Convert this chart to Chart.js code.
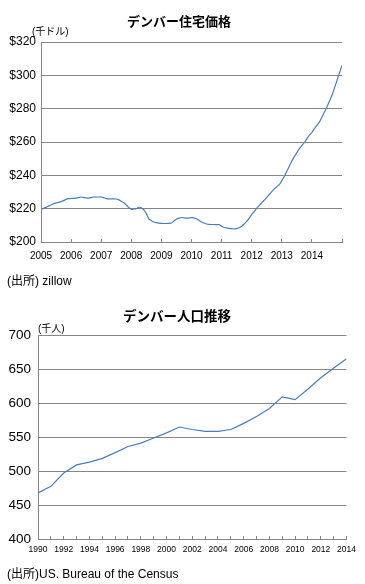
<!DOCTYPE html>
<html>
<head>
<meta charset="utf-8">
<script src="https://cdn.jsdelivr.net/npm/chart.js@4.4.1/dist/chart.umd.min.js"></script>
<style>
  body { margin: 0; background: #fff; width: 365px; height: 584px; position: relative; overflow: hidden;
         font-family: Arial, "Liberation Sans", "Noto Sans CJK JP", sans-serif; color: #000; }
  .box { position: absolute; left: 0; width: 365px; }
  .txt { position: absolute; white-space: nowrap; line-height: 1; }
  .title { font-weight: bold; font-family: "Noto Sans CJK JP", sans-serif; }
</style>
</head>
<body>
<div class="box" style="top:0;height:290px;"><canvas id="price-chart" width="365" height="290"></canvas></div>
<div class="box" style="top:290px;height:294px;"><canvas id="pop-chart" width="365" height="294"></canvas></div>

<div class="txt title" style="left:127px;top:14px;font-size:13px;">デンバー住宅価格</div>
<div class="txt" style="left:32px;top:27px;font-size:10px;">(千ドル)</div>
<div class="txt" style="left:7px;top:275px;font-size:12px;">(出所) zillow</div>

<div class="txt title" style="left:123px;top:309px;font-size:13.5px;">デンバー人口推移</div>
<div class="txt" style="left:38px;top:324px;font-size:10px;">(千人)</div>
<div class="txt" style="left:7px;top:568px;font-size:12px;">(出所)US. Bureau of the Census</div>

<script>
const ctx1 = document.getElementById('price-chart').getContext('2d');
const ctx2 = document.getElementById('pop-chart').getContext('2d');

// Denver home price, monthly from Jan 2005 (thousand dollars)
const priceStartYear = 2005;
const priceValues = [
    219.6, 220.2, 220.8, 221.5, 222.2, 223.0, 223.5, 223.8, 224.2, 224.8, 225.6, 226.0,
    226.1, 226.2, 226.3, 226.6, 227.0, 226.7, 226.4, 226.3, 226.6, 227.0, 227.0, 227.0,
    227.0, 226.6, 226.0, 225.9, 225.9, 225.9, 225.8, 225.3, 224.5, 223.5, 222.2, 220.8,
    219.6, 219.8, 220.0, 220.8, 220.6, 219.3, 217.0, 213.9, 212.8, 212.0, 211.6, 211.3,
    211.2, 211.1, 211.1, 211.2, 211.4, 212.6, 213.7, 214.3, 214.7, 214.5, 214.3, 214.4,
    214.6, 214.5, 213.9, 213.0, 212.0, 211.4, 210.8, 210.6, 210.5, 210.5, 210.4, 210.4,
    209.4, 208.7, 208.5, 208.2, 208.0, 207.8, 208.0, 208.5, 209.5, 210.8, 212.4, 214.2,
    216.6, 218.3, 220.3, 221.8, 223.5, 225.1, 226.8, 228.5, 230.2, 231.9, 233.2, 234.4,
    236.8, 239.5, 242.5, 245.5, 248.6, 251.2, 253.6, 256.0, 257.8, 259.7, 261.9, 264.2,
    265.7, 268.0, 270.0, 272.0, 275.0, 278.0, 281.0, 284.5, 288.0, 292.5, 297.0, 301.5,
    306.0
];
const priceTicks = [200, 220, 240, 260, 280, 300, 320];

// Denver population (thousand people)
const popYears = [1990, 1991, 1992, 1993, 1994, 1995, 1996, 1997, 1998, 1999, 2000, 2001,
    2002, 2003, 2004, 2005, 2006, 2007, 2008, 2009, 2010, 2011, 2012, 2013, 2014];
const popValues = [467.6, 477.5, 497, 509, 513, 518.6, 527, 536, 541, 548.5, 556, 564.7,
    561, 558.3, 558.3, 561, 570, 580, 592, 609, 605, 620.6, 637, 651.5, 665];
const popTicks = [400, 450, 500, 550, 600, 650, 700];

const lineColor = '#4a7ebb';
const gridColor = '#868686';
const tickFont = 'Arial, "Liberation Sans", sans-serif';

//House price chart
const priceChart = new Chart(ctx1, {
    type: 'line',
    data: {
        datasets: [{
            data: priceValues.map((v, i) => ({ x: i, y: v })),
            borderColor: lineColor,
            borderWidth: 1.2,
            pointRadius: 0,
            tension: 0.2,
            fill: false
        }]
    },
    options: {
        responsive: false,
        animation: false,
        devicePixelRatio: 1,
        layout: { padding: { top: 42, right: 23, bottom: 18, left: 0 } },
        scales: {
            x: {
                type: 'linear',
                min: 0,
                max: 120,
                afterFit: (scale) => { scale.height = 30; },
                afterBuildTicks: (scale) => {
                    scale.ticks = [];
                    for (let m = 0; m <= 120; m += 12) scale.ticks.push({ value: m });
                },
                ticks: {
                    autoSkip: false,
                    maxRotation: 0,
                    padding: 11,
                    color: '#000',
                    font: { family: tickFont, size: 10 },
                    callback: (v) => v < 120 ? String(priceStartYear + v / 12) : ''
                },
                // tick marks point up into the plot
                grid: { drawOnChartArea: false, drawTicks: true, tickLength: -3, color: gridColor },
                border: { color: gridColor }
            },
            y: {
                min: 200,
                max: 320,
                afterFit: (scale) => { scale.width = 41; },
                afterBuildTicks: (scale) => { scale.ticks = priceTicks.map(v => ({ value: v })); },
                ticks: {
                    padding: 5,
                    color: '#000',
                    font: { family: tickFont, size: 12 },
                    callback: (v) => '$' + v
                },
                grid: { drawTicks: false, color: gridColor },
                border: { color: gridColor }
            }
        },
        plugins: {
            legend: { display: false },
            tooltip: { enabled: false }
        }
    }
});

//Population chart
const popChart = new Chart(ctx2, {
    type: 'line',
    data: {
        datasets: [{
            data: popYears.map((y, i) => ({ x: y, y: popValues[i] })),
            borderColor: lineColor,
            borderWidth: 1.2,
            pointRadius: 0,
            tension: 0,
            fill: false
        }]
    },
    options: {
        responsive: false,
        animation: false,
        devicePixelRatio: 1,
        layout: { padding: { top: 45, right: 18, bottom: 25, left: 0 } },
        scales: {
            x: {
                type: 'linear',
                min: 1990,
                max: 2014,
                afterFit: (scale) => { scale.height = 20; },
                afterBuildTicks: (scale) => { scale.ticks = popYears.map(y => ({ value: y })); },
                ticks: {
                    autoSkip: false,
                    maxRotation: 0,
                    padding: 9,
                    color: '#000',
                    font: { family: tickFont, size: 8.5 },
                    callback: (v) => v % 2 === 0 ? String(v) : ''
                },
                grid: { drawOnChartArea: false, drawTicks: true, tickLength: -3, color: gridColor },
                border: { color: gridColor }
            },
            y: {
                min: 400,
                max: 700,
                afterFit: (scale) => { scale.width = 38; },
                afterBuildTicks: (scale) => { scale.ticks = popTicks.map(v => ({ value: v })); },
                ticks: {
                    padding: 7,
                    color: '#000',
                    font: { family: tickFont, size: 13.5 }
                },
                grid: { drawTicks: false, color: gridColor },
                border: { color: gridColor }
            }
        },
        plugins: {
            legend: { display: false },
            tooltip: { enabled: false }
        }
    }
});
</script>
</body>
</html>
